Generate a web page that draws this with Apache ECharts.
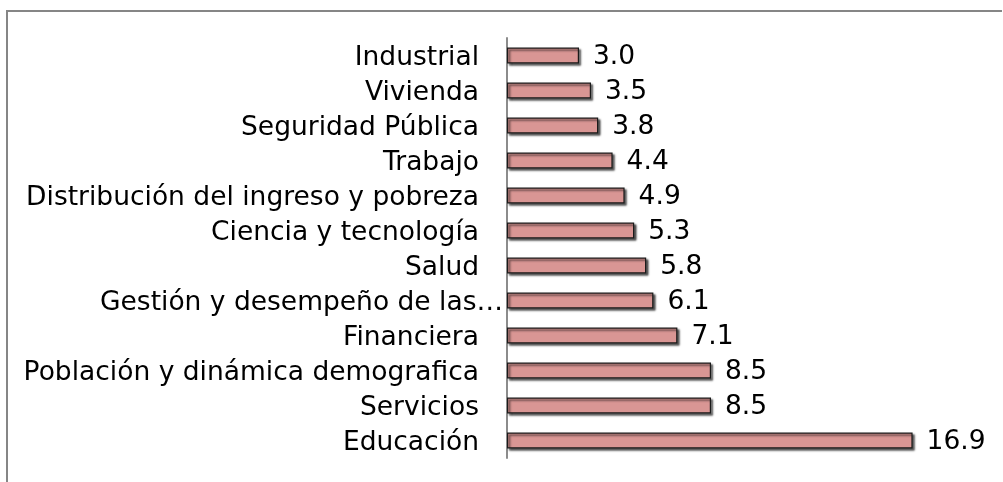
<!DOCTYPE html>
<html>
<head>
<meta charset="utf-8">
<script src="https://cdn.jsdelivr.net/npm/echarts@6/dist/echarts.min.js"></script>
<style>html,body{margin:0;padding:0;background:#fff;}#c{width:1003px;height:482px;}</style>
</head>
<body>
<div id="c"></div>
<script>
var categories = ["Industrial","Vivienda","Seguridad Pública","Trabajo","Distribución del ingreso y pobreza","Ciencia y tecnología","Salud","Gestión y desempeño de las…","Financiera","Población y dinámica demografica","Servicios","Educación"];
var values = [3.0,3.5,3.8,4.4,4.9,5.3,5.8,6.1,7.1,8.5,8.5,16.9];

var FONT = 'DejaVu Sans';
var FS = 26.5;
var chart = echarts.init(document.getElementById('c'));
chart.setOption({
  animation: false,
  backgroundColor: '#fff',
  graphic: [{
    type: 'polyline',
    shape: { points: [[7, 482], [7, 11], [1002, 11]] },
    style: { stroke: '#868686', lineWidth: 2, fill: null }
  }],
  grid: { left: 507, right: 64, top: 38, bottom: 24 },
  xAxis: {
    type: 'value', min: 0, max: 18,
    show: false
  },
  yAxis: {
    type: 'category', data: categories, inverse: true,
    axisLine: { show: true, lineStyle: { color: '#8c8c8c', width: 2 } },
    axisTick: { show: false },
    axisLabel: {
      interval: 0, hideOverlap: false,
      color: '#000', fontFamily: FONT, fontSize: FS, margin: 4,
      formatter: function (v) {
        return v.indexOf('…') >= 0 ? '{e|' + v + '}' : '{n|' + v + '}';
      },
      rich: {
        n: { color: '#000', fontFamily: FONT, fontSize: FS, padding: [5, 24, 0, 0] },
        e: { color: '#000', fontFamily: FONT, fontSize: FS, padding: [5, 0, 0, 0] }
      }
    }
  },
  series: [{
    type: 'bar',
    data: values,
    barWidth: 16,
    itemStyle: {
      color: '#d99694', borderColor: '#1a1a1a', borderWidth: 1.2,
      shadowColor: 'rgba(0,0,0,0.65)', shadowBlur: 2, shadowOffsetX: 2, shadowOffsetY: 2
    },
    label: {
      show: true, position: 'right', distance: 14, offset: [0, 2],
      color: '#000', fontFamily: FONT, fontSize: FS,
      formatter: function (p) { return p.value.toFixed(1); }
    }
  }]
});
</script>
</body>
</html>
